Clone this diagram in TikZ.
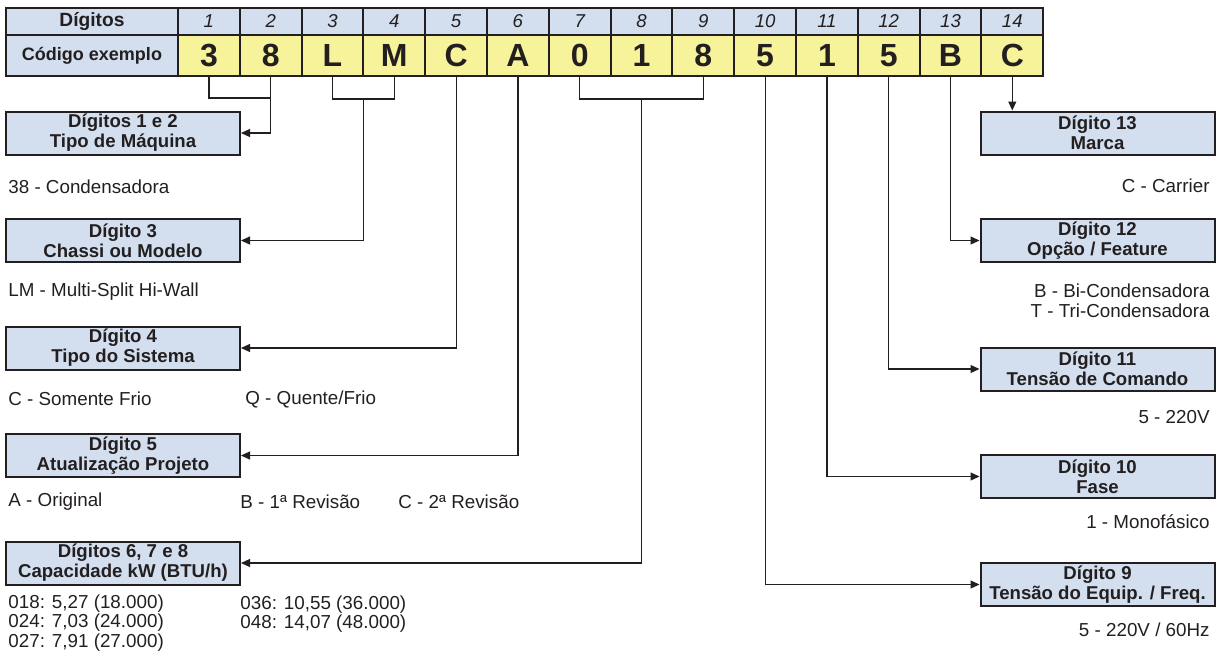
\documentclass[tikz,border=0pt]{standalone}
\usepackage{fontspec}
\setmainfont{Liberation Sans}
\usepackage{tikz}
\usetikzlibrary{arrows.meta, positioning, calc}

\definecolor{hdrblue}{RGB}{211,223,238}
\definecolor{codeyellow}{RGB}{246,243,155}
\definecolor{inkdark}{RGB}{35,31,32}

\begin{document}
\begin{tikzpicture}[
        x=0.5pt, y=-0.5pt,
        every node/.style={text=inkdark},
        cell/.style={draw=inkdark, line width=1pt, inner sep=0pt, minimum width=30.9pt},
        hdr/.style={cell, fill=hdrblue, minimum height=13.5pt, font=\fontsize{9.3}{10}\selectfont\itshape},
        code/.style={cell, fill=codeyellow, minimum height=20.5pt, font=\fontsize{16}{18}\selectfont\bfseries},
        box/.style={draw=inkdark, line width=1pt, fill=hdrblue, align=center, minimum width=117pt, minimum height=21.5pt, inner sep=0pt, font=\fontsize{9.3}{10}\selectfont\bfseries},
        desc/.style={inner sep=0pt, font=\fontsize{9.4}{10}\selectfont},
        link/.style={draw=inkdark, line width=0.6pt},
        arrow/.style={link, -{Triangle[length=4.5pt, width=4pt]}}
    ]
        \useasboundingbox (0,0) rectangle (1223,659);

        % Table
        \node[hdr, minimum width=86pt, font=\fontsize{9.6}{10}\selectfont\bfseries] (lbldig) at (92,21.5) {Dígitos};
        \node[hdr, minimum width=86pt, minimum height=20.5pt, font=\fontsize{9}{10}\selectfont\bfseries] (lblcod) at (92,55.5) {Código exemplo};
        \foreach \val [count=\i] in {3,8,L,M,C,A,0,1,8,5,1,5,B,C} {
            \node[hdr] (h\i) at ({178+61.8*(\i-0.5)},21.5) {\i};
            \node[code] (c\i) at ({178+61.8*(\i-0.5)},55.5) {\val};
        }

        % Nodes
        \node[box] (tipo) at (123,133) {Dígitos 1 e 2\\Tipo de Máquina};
        \node[box, below=31.25pt of tipo] (chassi) {Dígito 3\\Chassi ou Modelo};
        \node[box, below=31.25pt of chassi] (sistema) {Dígito 4\\Tipo do Sistema};
        \node[box, below=31.25pt of sistema] (projeto) {Dígito 5\\Atualização Projeto};
        \node[box, below=31.25pt of projeto] (capac) {Dígitos 6, 7 e 8\\Capacidade kW (BTU/h)};

        \node[box] (marca) at (1097.5,133) {Dígito 13\\Marca};
        \node[box, below=31.25pt of marca] (opcao) {Dígito 12\\Opção / Feature};
        \node[box, below=41.75pt of opcao] (comando) {Dígito 11\\Tensão de Comando};
        \node[box, below=31.25pt of comando] (fase) {Dígito 10\\Fase};
        \node[box, below=31.5pt of fase] (tensao) {Dígito 9\\Tensão do Equip. / Freq.};

        % Values
        \node[desc, anchor=west] at (8,187) {38 - Condensadora};
        \node[desc, anchor=west] at (8,292) {LM - Multi-Split Hi-Wall};
        \node[desc, anchor=west] at (8,399) {C - Somente Frio};
        \node[desc, anchor=west] at (245,399) {Q - Quente/Frio};
        \node[desc, anchor=west] at (8,502) {A - Original};
        \node[desc, anchor=west] at (240,502) {B - 1ª Revisão};
        \node[desc, anchor=west] at (398,502) {C - 2ª Revisão};
        \node[desc, anchor=west, align=left, font=\fontsize{9.4}{8.75}\selectfont] at (8,623) {018: 5,27 (18.000)\\024: 7,03 (24.000)\\027: 7,91 (27.000)};
        \node[desc, anchor=west, align=left, font=\fontsize{9.4}{8.75}\selectfont] at (240,614) {036: 10,55 (36.000)\\048: 14,07 (48.000)};

        \node[desc, anchor=east] at (1210,186) {C - Carrier};
        \node[desc, anchor=east, align=right] at (1210,301) {B - Bi-Condensadora\\T - Tri-Condensadora};
        \node[desc, anchor=east] at (1210,417) {5 - 220V};
        \node[desc, anchor=east] at (1210,522) {1 - Monofásico};
        \node[desc, anchor=east] at (1210,630) {5 - 220V / 60Hz};

        % Arrows
        \draw[link] (c1.south) -- ++(0,21) -| (c2.south);
        \draw[arrow] (c2.south) |- (tipo.east);
        \draw[link] (c3.south) -- ++(0,22) -| (c4.south);
        \draw[arrow] ($(c3.south)!0.5!(c4.south)+(0,22)$) |- (chassi.east);
        \draw[arrow] (c5.south) |- (sistema.east);
        \draw[arrow] (c6.south) |- (projeto.east);
        \draw[link] (c7.south) -- ++(0,22) -| (c9.south);
        \draw[arrow] ($(c8.south)+(0,22)$) |- (capac.east);
        \draw[arrow] (c10.south) |- (tensao.west);
        \draw[arrow] (c11.south) |- (fase.west);
        \draw[arrow] (c12.south) |- (comando.west);
        \draw[arrow] (c13.south) |- (opcao.west);
        \draw[arrow] (c14.south) -- (c14.south |- marca.north);
    \end{tikzpicture}
\end{document}
